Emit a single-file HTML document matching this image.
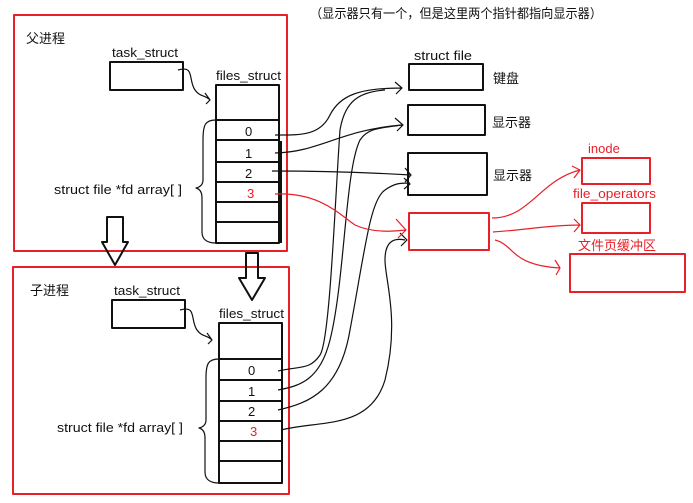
<!DOCTYPE html>
<html><head><meta charset="utf-8"><style>
body{margin:0;background:#fff;width:693px;height:503px;overflow:hidden}
svg{display:block}
text{font-family:"Liberation Sans","Noto Sans CJK SC",sans-serif;font-size:13px;fill:#111}
.r{fill:#e8202a}
</style></head><body>
<svg width="693" height="503" viewBox="0 0 693 503">
<g fill="none" stroke-linejoin="round">
<rect x="14" y="15" width="273" height="236" stroke="#e8202a" stroke-width="2"/>
<rect x="13" y="267" width="276" height="227" stroke="#e8202a" stroke-width="2"/>
<g stroke="#111" stroke-width="2">
<rect x="110" y="62" width="73" height="28"/>
<rect x="216" y="85" width="63" height="158"/>
<path d="M216 120H279M216 140H279M216 162H279M216 182H279M216 202H279M216 222H279"/>
<line x1="281" y1="141" x2="281" y2="243" stroke-width="2"/>
<rect x="112" y="300" width="73" height="28"/>
<rect x="219" y="323" width="63" height="160"/>
<path d="M219 359H282M219 380H282M219 401H282M219 421H282M219 441H282M219 461H282"/>
<rect x="409" y="64" width="74" height="26"/>
<rect x="408" y="105" width="77" height="30"/>
<rect x="408" y="153" width="79" height="42"/>
</g>
<g stroke="#e8202a" stroke-width="2">
<rect x="409" y="213" width="80" height="37"/>
<rect x="582" y="158" width="68" height="26"/>
<rect x="582" y="203" width="68" height="30"/>
<rect x="570" y="254" width="115" height="38"/>
</g>
<path d="M107 217H123V242H128L115 265L102 242H107Z" stroke="#111" stroke-width="2"/>
<path d="M246 253H258V278H265L252 300L239 278H246Z" stroke="#111" stroke-width="2"/>
<g stroke="#111" stroke-width="1.2">
<path d="M216 120C205 120 203 125 203 140V180C203 185 200 187 196 188C200 189 202 192 202 198V232C202 240 208 243 216 243"/>
<path d="M219 359C208 359 206 364 206 378V420C206 425 203 427 199 428C203 429 205 432 205 438V472C205 480 211 483 219 483"/>
<path d="M178 70C195 65 188 80 195 90C200 97 205 95 210 100M205 93L210 100L206 104"/>
<path d="M180 310C197 305 190 320 197 330C202 337 207 335 212 340M207 333L212 340L208 344"/>
<path d="M275 135C300 135 320 136 330 115C340 95 360 88 402 88M395 82L402 88L396 94"/>
<path d="M275 153C320 152 340 130 402 125M395 118L403 125L397 131"/>
<path d="M272 171C320 171 360 172 411 175M405 168L411 175L405 182"/>
<path d="M278 371C300 366 310 370 320 355C330 340 335 200 340 130C345 100 360 92 385 90"/>
<path d="M278 390C300 386 320 380 330 340C345 280 345 170 360 140C368 128 380 128 402 125"/>
<path d="M278 410C310 403 340 390 350 330C365 250 370 200 385 190C395 183 400 183 410 183M404 178L410 184L404 189"/>
<path d="M281 430C320 420 370 430 385 380C400 320 385 280 385 260C385 240 395 238 405 240M400 233L407 240L401 246"/>
</g>
<g stroke="#e8202a" stroke-width="1.2">
<path d="M275 194C320 192 340 215 355 225C370 232 390 232 406 230M396 219L406 230L398 238"/>
<path d="M492 218C530 218 540 180 580 170M572 166L580 170L574 178"/>
<path d="M493 232C525 230 550 225 580 225M574 219L580 225L574 232"/>
<path d="M495 240C515 245 510 265 560 268M555 260L560 268L556 275"/>
</g>
</g>
<text x="26" y="43">父进程</text>
<text x="112" y="57" textLength="66" lengthAdjust="spacingAndGlyphs">task_struct</text>
<text x="216" y="80" textLength="65" lengthAdjust="spacingAndGlyphs">files_struct</text>
<text x="245" y="136">0</text><text x="245" y="158">1</text><text x="245" y="178">2</text>
<text x="247" y="198" class="r">3</text>
<text x="54" y="194" textLength="128" lengthAdjust="spacingAndGlyphs">struct file *fd array[ ]</text>
<text x="30" y="295">子进程</text>
<text x="114" y="295" textLength="66" lengthAdjust="spacingAndGlyphs">task_struct</text>
<text x="219" y="318" textLength="65" lengthAdjust="spacingAndGlyphs">files_struct</text>
<text x="248" y="375">0</text><text x="248" y="396">1</text><text x="248" y="416">2</text>
<text x="250" y="436" class="r">3</text>
<text x="57" y="432" textLength="126" lengthAdjust="spacingAndGlyphs">struct file *fd array[ ]</text>
<text x="310" y="18" textLength="292" lengthAdjust="spacingAndGlyphs">（显示器只有一个，但是这里两个指针都指向显示器）</text>
<text x="414" y="60" textLength="58" lengthAdjust="spacingAndGlyphs">struct file</text>
<text x="493" y="83">键盘</text>
<text x="492" y="127">显示器</text>
<text x="493" y="180">显示器</text>
<text x="588" y="153" class="r">inode</text>
<text x="573" y="198" class="r" textLength="83" lengthAdjust="spacingAndGlyphs">file_operators</text>
<text x="578" y="250" class="r">文件页缓冲区</text>
</svg>
</body></html>
